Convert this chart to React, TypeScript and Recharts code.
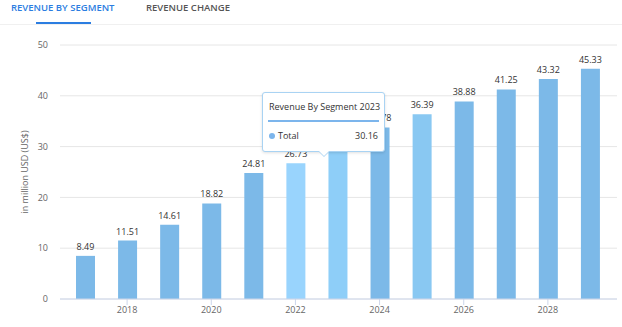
import React from 'react';
import { BarChart, Bar, XAxis, YAxis, CartesianGrid, Tooltip, Cell, LabelList } from 'recharts';

const years = ['2017', '2018', '2019', '2020', '2021', '2022', '2023', '2024', '2025', '2026', '2027', '2028', '2029'];
const revenue = [8.49, 11.51, 14.61, 18.82, 24.81, 26.73, 30.16, 33.78, 36.39, 38.88, 41.25, 43.32, 45.33];
const xTicks = ['2018', '2020', '2022', '2024', '2026', '2028'];
const yTicks = [0, 10, 20, 30, 40, 50];

const data = years.map((year, i) => ({ year, value: revenue[i] }));

const BAR = '#7cb9e8';
// hover shading seen in the screenshot
const SHADE: Record<string, string> = { '2022': '#99d4fd', '2023': '#8ecef8', '2025': '#89c8f2' };

const FONT = '"Open Sans", "DejaVu Sans", sans-serif';
const FS = 9;

const TipBox = () => (
  <div style={{ position: 'relative', width: 121, height: 58, background: '#fff', border: '1px solid #a9d3f3', borderRadius: 3, boxShadow: '0 1px 3px rgba(0,0,0,0.12)', fontFamily: FONT, fontSize: FS, lineHeight: '12px', color: '#333' }}>
    <div style={{ position: 'absolute', left: 6, top: 8, whiteSpace: 'nowrap' }}>Revenue By Segment 2023</div>
    <div style={{ position: 'absolute', left: 5, right: 5, top: 27, height: 2, background: '#7cb5ec' }} />
    <div style={{ position: 'absolute', left: 6, top: 37, display: 'flex', alignItems: 'center' }}>
      <span style={{ width: 6, height: 6, borderRadius: '50%', background: '#7cb5ec', marginRight: 3 }} />
      Total
    </div>
    <div style={{ position: 'absolute', right: 6, top: 37 }}>30.16</div>
    <div style={{ position: 'absolute', left: 55, bottom: -6, width: 0, height: 0, borderLeft: '6px solid transparent', borderRight: '6px solid transparent', borderTop: '6px solid #a9d3f3' }} />
    <div style={{ position: 'absolute', left: 56, bottom: -5, width: 0, height: 0, borderLeft: '5px solid transparent', borderRight: '5px solid transparent', borderTop: '5px solid #fff' }} />
  </div>
);

export default function App() {
  return (
    <div style={{ position: 'fixed', left: 0, top: 0, width: 622, height: 327, background: '#fff', fontFamily: FONT, overflow: 'hidden' }}>
      <div style={{ position: 'absolute', left: 11, top: 1, fontSize: 9.5, lineHeight: '13px', fontWeight: 600, color: '#2b7de1' }}>REVENUE BY SEGMENT</div>
      <div style={{ position: 'absolute', left: 146, top: 1, fontSize: 9.5, lineHeight: '13px', fontWeight: 600, color: '#555' }}>REVENUE CHANGE</div>
      <div style={{ position: 'absolute', left: 0, right: 0, top: 24, height: 1, background: '#f0f0f0' }} />
      <div style={{ position: 'absolute', left: 36, width: 55, top: 22, height: 2, background: '#2b7de1' }} />
      <div style={{ position: 'absolute', left: 0, top: 0 }}>
        <BarChart width={622} height={327} data={data} margin={{ top: 45, right: 5, bottom: 4, left: 20 }}>
          <CartesianGrid horizontal vertical={false} stroke="#e6e6e6" />
          <XAxis
            dataKey="year"
            ticks={xTicks}
            height={24}
            padding={{ left: 4, right: 6 }}
            tick={{ fontSize: FS, fill: '#666', fontFamily: FONT }}
            axisLine={{ stroke: '#ccd6eb' }}
            tickLine={{ stroke: '#ccd6eb' }}
          />
          <YAxis
            domain={[0, 50]}
            ticks={yTicks}
            width={40}
            axisLine={false}
            tickLine={false}
            tickMargin={6}
            tick={{ fontSize: FS, fill: '#666', fontFamily: FONT }}
            label={{ value: 'in million USD (US$)', angle: -90, position: 'insideLeft', offset: 5, style: { fontSize: FS, fill: '#666', fontFamily: FONT, textAnchor: 'middle' } }}
          />
          <Tooltip
            active
            defaultIndex={6}
            cursor={false}
            isAnimationActive={false}
            position={{ x: 262, y: 92 }}
            content={() => <TipBox />}
            wrapperStyle={{ zIndex: 10 }}
          />
          <Bar dataKey="value" barSize={19} isAnimationActive={false}>
            {data.map(d => (
              <Cell key={d.year} fill={SHADE[d.year] || BAR} />
            ))}
            <LabelList dataKey="value" position="top" offset={6} style={{ fontSize: FS, fill: '#333', fontFamily: FONT }} formatter={(v: number) => v.toFixed(2)} />
          </Bar>
        </BarChart>
      </div>
    </div>
  );
}
